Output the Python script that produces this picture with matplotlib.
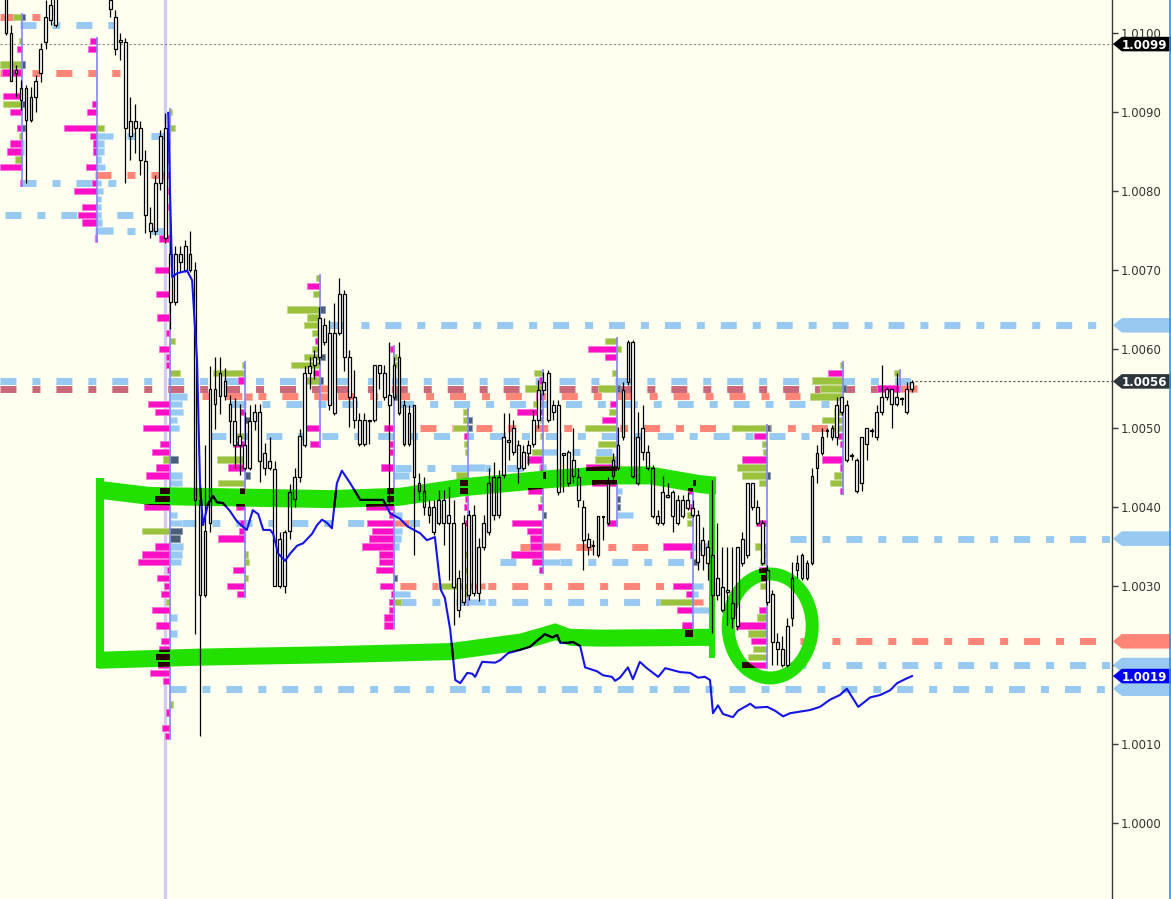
import numpy as np
import matplotlib.pyplot as plt
from matplotlib.patches import Polygon, PathPatch
from matplotlib.path import Path
from matplotlib.lines import Line2D

plt.rcParams['font.family'] = ['DejaVu Sans']

# price bars, bar index starts at 1: (open, high, low, close)
candles = [
    (1.01048, 1.01061, 1.00997, 1.01000), (1.01000, 1.01010, 1.00939, 1.00939),
    (1.00953, 1.00959, 1.00919, 1.00949), (1.00930, 1.00941, 1.00903, 1.00915),
    (1.00930, 1.00934, 1.00810, 1.00890), (1.00919, 1.00932, 1.00887, 1.00890),
    (1.00939, 1.00947, 1.00900, 1.00919), (1.00980, 1.00987, 1.00938, 1.00949),
    (1.01020, 1.01042, 1.00980, 1.00989), (1.01035, 1.01048, 1.01010, 1.01016),
    (1.01054, 1.01067, 1.01008, 1.01010), (1.01075, 1.01085, 1.01045, 1.01050),
    (1.01090, 1.01100, 1.01065, 1.01070), (1.01105, 1.01115, 1.01080, 1.01085),
    (1.01120, 1.01130, 1.01095, 1.01100), (1.01115, 1.01125, 1.01090, 1.01095),
    (1.01110, 1.01120, 1.01085, 1.01090), (1.01100, 1.01110, 1.01075, 1.01080),
    (1.01090, 1.01100, 1.01065, 1.01070), (1.01080, 1.01090, 1.01055, 1.01060),
    (1.01070, 1.01075, 1.01045, 1.01050), (1.01042, 1.01048, 1.01020, 1.01030),
    (1.01020, 1.01029, 1.00972, 1.00980), (1.00991, 1.01000, 1.00966, 1.00989),
    (1.00989, 1.00994, 1.00810, 1.00880), (1.00889, 1.00919, 1.00839, 1.00870),
    (1.00889, 1.00910, 1.00848, 1.00880), (1.00880, 1.00889, 1.00820, 1.00839),
    (1.00838, 1.00852, 1.00747, 1.00770), (1.00759, 1.00780, 1.00741, 1.00749),
    (1.00810, 1.00820, 1.00744, 1.00749), (1.00870, 1.00877, 1.00801, 1.00810),
    (1.00880, 1.00899, 1.00734, 1.00741), (1.00720, 1.00750, 1.00625, 1.00660),
    (1.00720, 1.00730, 1.00656, 1.00660), (1.00720, 1.00730, 1.00699, 1.00710),
    (1.00730, 1.00738, 1.00697, 1.00700), (1.00720, 1.00749, 1.00697, 1.00700),
    (1.00700, 1.00710, 1.00239, 1.00409), (1.00409, 1.00429, 1.00110, 1.00289),
    (1.00370, 1.00478, 1.00286, 1.00289), (1.00549, 1.00579, 1.00368, 1.00380),
    (1.00549, 1.00590, 1.00499, 1.00530), (1.00570, 1.00590, 1.00518, 1.00541),
    (1.00560, 1.00576, 1.00535, 1.00541), (1.00530, 1.00542, 1.00481, 1.00509),
    (1.00509, 1.00538, 1.00449, 1.00478), (1.00490, 1.00530, 1.00441, 1.00478),
    (1.00478, 1.00520, 1.00447, 1.00449), (1.00509, 1.00529, 1.00447, 1.00449),
    (1.00520, 1.00530, 1.00497, 1.00509), (1.00520, 1.00530, 1.00432, 1.00458),
    (1.00468, 1.00481, 1.00441, 1.00449), (1.00458, 1.00489, 1.00447, 1.00449),
    (1.00448, 1.00458, 1.00300, 1.00300), (1.00360, 1.00368, 1.00298, 1.00300),
    (1.00368, 1.00371, 1.00291, 1.00300), (1.00419, 1.00429, 1.00360, 1.00370),
    (1.00438, 1.00449, 1.00400, 1.00410), (1.00490, 1.00499, 1.00432, 1.00438),
    (1.00570, 1.00579, 1.00476, 1.00478), (1.00579, 1.00590, 1.00549, 1.00570),
    (1.00590, 1.00599, 1.00562, 1.00580), (1.00639, 1.00653, 1.00581, 1.00590),
    (1.00630, 1.00639, 1.00605, 1.00609), (1.00620, 1.00637, 1.00523, 1.00529),
    (1.00620, 1.00658, 1.00516, 1.00519), (1.00670, 1.00690, 1.00618, 1.00620),
    (1.00670, 1.00675, 1.00572, 1.00590), (1.00590, 1.00599, 1.00501, 1.00539),
    (1.00539, 1.00573, 1.00500, 1.00510), (1.00510, 1.00519, 1.00477, 1.00480),
    (1.00510, 1.00519, 1.00477, 1.00480), (1.00510, 1.00510, 1.00480, 1.00509),
    (1.00580, 1.00580, 1.00508, 1.00510), (1.00580, 1.00580, 1.00549, 1.00570),
    (1.00570, 1.00580, 1.00535, 1.00539), (1.00542, 1.00609, 1.00405, 1.00529),
    (1.00580, 1.00590, 1.00535, 1.00539), (1.00590, 1.00609, 1.00516, 1.00519),
    (1.00529, 1.00535, 1.00477, 1.00480), (1.00519, 1.00529, 1.00477, 1.00480),
    (1.00529, 1.00529, 1.00339, 1.00438), (1.00430, 1.00443, 1.00409, 1.00420),
    (1.00420, 1.00438, 1.00390, 1.00400), (1.00400, 1.00409, 1.00380, 1.00390),
    (1.00400, 1.00409, 1.00365, 1.00368), (1.00409, 1.00422, 1.00377, 1.00380),
    (1.00409, 1.00422, 1.00352, 1.00380), (1.00390, 1.00425, 1.00308, 1.00380),
    (1.00380, 1.00409, 1.00251, 1.00299), (1.00310, 1.00320, 1.00261, 1.00270),
    (1.00380, 1.00390, 1.00276, 1.00280), (1.00390, 1.00396, 1.00282, 1.00289),
    (1.00390, 1.00403, 1.00287, 1.00291), (1.00349, 1.00361, 1.00281, 1.00291),
    (1.00380, 1.00390, 1.00346, 1.00349), (1.00430, 1.00449, 1.00365, 1.00368),
    (1.00438, 1.00457, 1.00384, 1.00390), (1.00438, 1.00447, 1.00386, 1.00390),
    (1.00489, 1.00519, 1.00437, 1.00441), (1.00485, 1.00519, 1.00459, 1.00482),
    (1.00500, 1.00510, 1.00466, 1.00470), (1.00478, 1.00485, 1.00430, 1.00449),
    (1.00470, 1.00478, 1.00447, 1.00449), (1.00478, 1.00485, 1.00453, 1.00468),
    (1.00510, 1.00523, 1.00476, 1.00480), (1.00548, 1.00561, 1.00500, 1.00510),
    (1.00558, 1.00571, 1.00542, 1.00548), (1.00570, 1.00573, 1.00508, 1.00510),
    (1.00529, 1.00535, 1.00510, 1.00520), (1.00529, 1.00535, 1.00415, 1.00419),
    (1.00468, 1.00468, 1.00419, 1.00466), (1.00470, 1.00472, 1.00427, 1.00430),
    (1.00459, 1.00500, 1.00430, 1.00439), (1.00438, 1.00449, 1.00400, 1.00409),
    (1.00400, 1.00409, 1.00320, 1.00358), (1.00360, 1.00367, 1.00339, 1.00349),
    (1.00352, 1.00358, 1.00339, 1.00351), (1.00389, 1.00389, 1.00337, 1.00339),
    (1.00389, 1.00389, 1.00358, 1.00387), (1.00430, 1.00438, 1.00377, 1.00380),
    (1.00459, 1.00468, 1.00430, 1.00439), (1.00478, 1.00501, 1.00447, 1.00449),
    (1.00548, 1.00558, 1.00485, 1.00489), (1.00609, 1.00611, 1.00554, 1.00558),
    (1.00609, 1.00611, 1.00437, 1.00439), (1.00489, 1.00520, 1.00428, 1.00430),
    (1.00500, 1.00529, 1.00459, 1.00470), (1.00470, 1.00478, 1.00447, 1.00449),
    (1.00449, 1.00453, 1.00386, 1.00389), (1.00389, 1.00396, 1.00377, 1.00380),
    (1.00419, 1.00439, 1.00377, 1.00380), (1.00415, 1.00430, 1.00411, 1.00413),
    (1.00419, 1.00422, 1.00368, 1.00389), (1.00409, 1.00415, 1.00377, 1.00380),
    (1.00409, 1.00415, 1.00386, 1.00389), (1.00409, 1.00419, 1.00396, 1.00399),
    (1.00399, 1.00409, 1.00387, 1.00390), (1.00390, 1.00396, 1.00320, 1.00330),
    (1.00358, 1.00375, 1.00320, 1.00339), (1.00349, 1.00358, 1.00308, 1.00329),
    (1.00339, 1.00434, 1.00241, 1.00289), (1.00310, 1.00380, 1.00282, 1.00289),
    (1.00299, 1.00349, 1.00267, 1.00270), (1.00295, 1.00349, 1.00251, 1.00292),
    (1.00278, 1.00349, 1.00247, 1.00259), (1.00349, 1.00349, 1.00244, 1.00249),
    (1.00360, 1.00368, 1.00325, 1.00329), (1.00430, 1.00430, 1.00335, 1.00339),
    (1.00430, 1.00430, 1.00396, 1.00400), (1.00400, 1.00409, 1.00377, 1.00380),
    (1.00380, 1.00384, 1.00327, 1.00329), (1.00320, 1.00327, 1.00276, 1.00280),
    (1.00290, 1.00295, 1.00200, 1.00229), (1.00229, 1.00241, 1.00200, 1.00220),
    (1.00220, 1.00237, 1.00197, 1.00200), (1.00249, 1.00259, 1.00197, 1.00200),
    (1.00310, 1.00330, 1.00249, 1.00259), (1.00329, 1.00339, 1.00310, 1.00320),
    (1.00339, 1.00342, 1.00308, 1.00310), (1.00329, 1.00333, 1.00308, 1.00310),
    (1.00439, 1.00449, 1.00327, 1.00329), (1.00468, 1.00478, 1.00430, 1.00449),
    (1.00489, 1.00500, 1.00466, 1.00468), (1.00497, 1.00500, 1.00489, 1.00496),
    (1.00500, 1.00504, 1.00485, 1.00489), (1.00529, 1.00539, 1.00478, 1.00489),
    (1.00539, 1.00539, 1.00516, 1.00520), (1.00529, 1.00535, 1.00457, 1.00459),
    (1.00466, 1.00468, 1.00459, 1.00465), (1.00459, 1.00462, 1.00418, 1.00420),
    (1.00489, 1.00489, 1.00420, 1.00430), (1.00500, 1.00500, 1.00459, 1.00480),
    (1.00497, 1.00500, 1.00489, 1.00496), (1.00520, 1.00529, 1.00485, 1.00489),
    (1.00539, 1.00580, 1.00516, 1.00520), (1.00549, 1.00552, 1.00535, 1.00539),
    (1.00549, 1.00549, 1.00500, 1.00530), (1.00539, 1.00570, 1.00528, 1.00530),
    (1.00538, 1.00539, 1.00529, 1.00537), (1.00549, 1.00558, 1.00518, 1.00520),
    (1.00549, 1.00561, 1.00546, 1.00558),
]

# vwap-like line (bar position, price)
vwap_bar = [33.6, 34.0, 34.4, 35.4, 37.4, 38.4, 39.4, 40.0, 40.6, 41.6, 42.6, 43.4,
            44.6, 46.0, 47.4, 48.6, 49.4, 50.6, 51.7, 52.7, 54.1, 54.7, 55.7, 57.1,
            58.1, 59.5, 60.7, 62.5, 63.5, 64.5, 65.5, 66.5, 67.5, 68.5, 70.2, 72.2,
            74.2, 76.8, 78.2, 80.2, 81.8, 84.2, 85.6, 87.2, 88.4, 89.2, 90.3, 91.3,
            92.3, 93.7, 94.7, 95.3, 96.7, 99.3, 100.3, 101.9, 104.3, 106.3, 109.3,
            110.8, 111.8, 112.4, 113.8, 115.0, 116.4, 117.4, 119.8, 121.0, 122.8,
            123.4, 124.4, 126.0, 127.0, 128.4, 129.8, 132.1, 133.5, 136.5, 138.5,
            140.1, 141.5, 142.5, 143.1, 144.1, 145.1, 147.1, 148.1, 150.6, 151.6,
            154.0, 155.6, 157.2, 158.6, 160.6, 162.6, 164.6, 166.6, 168.6, 170.0,
            171.1, 172.3, 173.3, 174.7, 176.7, 178.7, 180.1, 181.7, 183.1]
vwap_price = [1.00899, 1.00789, 1.00691, 1.00696, 1.00699, 1.00687, 1.00585, 1.00427,
              1.00377, 1.00404, 1.00414, 1.00406, 1.00405, 1.00395, 1.00382, 1.00375,
              1.00371, 1.00396, 1.00391, 1.00371, 1.00371, 1.00366, 1.00341, 1.00332,
              1.00341, 1.00351, 1.00354, 1.00366, 1.00377, 1.00384, 1.00380, 1.00373,
              1.00430, 1.00446, 1.00430, 1.00409, 1.00409, 1.00409, 1.00392, 1.00385,
              1.00375, 1.00367, 1.00358, 1.00362, 1.00295, 1.00285, 1.00244, 1.00181,
              1.00177, 1.00190, 1.00189, 1.00185, 1.00204, 1.00203, 1.00206, 1.00215,
              1.00219, 1.00223, 1.00239, 1.00235, 1.00238, 1.00228, 1.00228, 1.00229,
              1.00224, 1.00197, 1.00192, 1.00187, 1.00185, 1.00180, 1.00184, 1.00197,
              1.00182, 1.00204, 1.00196, 1.00185, 1.00196, 1.00191, 1.00190, 1.00184,
              1.00185, 1.00181, 1.00139, 1.00149, 1.00138, 1.00134, 1.00142, 1.00151,
              1.00146, 1.00147, 1.00142, 1.00135, 1.00139, 1.00141, 1.00143, 1.00147,
              1.00156, 1.00162, 1.00170, 1.00159, 1.00147, 1.00152, 1.00159, 1.00162,
              1.00168, 1.00177, 1.00182, 1.00186]

# dashed levels: (price, colour key, from bar, to bar; None = up to the axis)
levels = [
    (1.0102, 's', -0.2, 9.0), (1.0101, 'b', 3.8, 24.0), (1.0095, 's', -0.2, 24.0),
    (1.0087, 'b', 18.9, 33.0), (1.0082, 's', 18.9, 33.0), (1.0081, 'b', 3.8, 25.9),
    (1.0077, 'b', 0.8, 26.9), (1.0075, 'b', 18.9, 33.0), (1.0063, 'b', 66.0, None),
    (1.0056, 'b', -0.2, 183.7), (1.0055, 'r', -0.2, 183.7), (1.0054, 's', 34.0, 160.6),
    (1.0053, 'b', 46.0, 166.6), (1.0050, 's', 84.2, 166.6), (1.0049, 'b', 42.0, 162.6),
    (1.0047, 'b', 108.3, 125.0), (1.0045, 'b', 79.2, 108.3), (1.0038, 'b', 36.0, 86.2),
    (1.0036, 'b', 158.6, None), (1.0035, 's', 104.3, 140.5), (1.0033, 'b', 100.3, 140.5),
    (1.0030, 's', 80.2, 140.5), (1.0028, 'b', 80.2, 140.5), (1.0023, 's', 160.6, None),
    (1.0020, 'b', 158.6, None), (1.0017, 'b', 34.0, None),
]

# session volume profiles: (price, kind, size in bars)
# m/o grow to the left of the session start, b/s/k/g to the right
profile_anchors = [4.2, 19.3, 34.0, 49.0, 64.1, 79.0, 93.9, 108.9, 123.8, 139.1, 154.0, 169.2, 180.7]
profile_a = [(1.0102, 'o', 1.8), (1.0102, 'k', 0.6), (1.0099, 'o', 0.6), (1.0098, 'm', 1.0),
             (1.0096, 'o', 4.4), (1.0096, 'k', 0.6), (1.0095, 'm', 4.0), (1.0092, 'm', 3.8),
             (1.0091, 'o', 3.8), (1.0091, 'k', 0.6), (1.0090, 'm', 2.4), (1.0088, 'm', 1.0),
             (1.0088, 'k', 0.6), (1.0087, 'o', 0.6), (1.0086, 'm', 2.4), (1.0086, 'b', 0.4),
             (1.0085, 'm', 3.0), (1.0085, 'b', 0.4), (1.0084, 'o', 1.4), (1.0083, 'm', 4.4),
             (1.0081, 'm', 0.4)]
profile_b = [(1.0099, 'm', 1.4), (1.0098, 'm', 1.8), (1.0091, 'm', 1.0), (1.0090, 'm', 2.0),
             (1.0088, 'm', 6.6), (1.0088, 'g', 1.4), (1.0087, 'm', 1.4), (1.0087, 'b', 3.2),
             (1.0086, 'm', 0.8), (1.0086, 'b', 1.4), (1.0085, 'm', 0.8), (1.0085, 'b', 1.4),
             (1.0084, 'b', 0.8), (1.0083, 'm', 2.2), (1.0083, 'b', 1.6), (1.0081, 'm', 1.0),
             (1.0081, 'b', 0.8), (1.0080, 'm', 4.6), (1.0080, 'b', 1.2), (1.0079, 'b', 0.8),
             (1.0078, 'm', 3.0), (1.0078, 'b', 0.8), (1.0077, 'm', 3.8), (1.0077, 'b', 0.8),
             (1.0076, 'm', 3.0), (1.0076, 'b', 1.0), (1.0075, 'b', 3.2), (1.0074, 'm', 0.4)]
profile_c = [(1.0090, 'g', 0.4), (1.0088, 'g', 1.0), (1.0086, 'm', 0.4), (1.0084, 'm', 0.4),
             (1.0082, 'm', 0.4), (1.0080, 'm', 0.4), (1.0078, 'm', 0.4), (1.0074, 'm', 2.2),
             (1.0070, 'm', 3.0), (1.0067, 'm', 2.8), (1.0064, 'm', 2.6), (1.0062, 'm', 0.8),
             (1.0061, 'g', 1.0), (1.0060, 'm', 2.2), (1.0059, 'm', 0.8), (1.0058, 'm', 0.8),
             (1.0057, 'g', 2.0), (1.0054, 'b', 3.4), (1.0053, 'm', 4.4), (1.0053, 'b', 2.4),
             (1.0052, 'm', 3.0), (1.0052, 'b', 2.6), (1.0051, 'b', 1.4), (1.0050, 'm', 5.4),
             (1.0050, 'b', 1.8), (1.0048, 'm', 2.0), (1.0047, 'm', 3.6), (1.0046, 'o', 1.4),
             (1.0046, 'k', 1.6), (1.0045, 'm', 2.8), (1.0044, 'm', 4.8), (1.0044, 'b', 2.4),
             (1.0043, 'b', 2.4), (1.0042, 'm', 2.0), (1.0041, 'm', 3.0), (1.0040, 'm', 5.2),
             (1.0039, 'b', 1.4), (1.0038, 'b', 2.4), (1.0037, 'o', 5.6), (1.0037, 'k', 2.4),
             (1.0036, 'k', 2.0), (1.0035, 'm', 3.0), (1.0035, 'b', 2.6), (1.0034, 'm', 5.6),
             (1.0034, 'b', 2.4), (1.0033, 'm', 6.4), (1.0033, 'b', 2.2), (1.0032, 'm', 0.6),
             (1.0031, 'm', 2.6), (1.0030, 'm', 1.2), (1.0029, 'm', 1.8), (1.0028, 'o', 0.8),
             (1.0027, 'm', 3.6), (1.0026, 'b', 1.4), (1.0025, 'm', 2.8), (1.0024, 'b', 1.4),
             (1.0023, 'm', 1.8), (1.0022, 'm', 2.2), (1.0021, 'm', 2.8), (1.0020, 'm', 2.4),
             (1.0019, 'm', 4.0), (1.0018, 'm', 1.4), (1.0015, 'g', 0.6), (1.0014, 'm', 0.8),
             (1.0012, 'm', 1.6), (1.0011, 'm', 1.0)]
profile_d = [(1.0058, 'o', 0.6), (1.0057, 'o', 6.4), (1.0056, 'm', 1.4), (1.0054, 's', 1.4),
             (1.0052, 'm', 1.0), (1.0051, 'k', 1.0), (1.0049, 'o', 2.0), (1.0048, 'm', 2.4),
             (1.0046, 'o', 5.6), (1.0045, 'm', 3.4), (1.0044, 'k', 1.0), (1.0043, 'o', 5.4),
             (1.0042, 'm', 1.0), (1.0041, 'o', 1.6), (1.0040, 'm', 1.8), (1.0038, 'm', 1.0),
             (1.0037, 'm', 1.2), (1.0036, 'm', 5.4), (1.0034, 'g', 0.6), (1.0033, 'g', 0.8),
             (1.0032, 'm', 2.4), (1.0031, 'g', 0.6), (1.0030, 'm', 3.6), (1.0029, 'm', 1.6)]
profile_e = [(1.0069, 'o', 0.8), (1.0068, 'm', 2.6), (1.0067, 'o', 1.4), (1.0065, 'o', 6.6),
             (1.0065, 'k', 1.0), (1.0064, 'o', 2.6), (1.0063, 'o', 3.2), (1.0062, 'o', 1.6),
             (1.0061, 'm', 1.0), (1.0060, 'o', 1.6), (1.0059, 'o', 3.2), (1.0059, 'k', 1.0),
             (1.0058, 'o', 5.8), (1.0057, 'm', 1.4), (1.0056, 'o', 3.4), (1.0056, 'k', 0.6),
             (1.0055, 's', 2.0), (1.0054, 's', 1.6), (1.0050, 'm', 3.4), (1.0048, 'm', 2.0)]
profile_f = [(1.0060, 'm', 0.8), (1.0059, 'g', 0.6), (1.0058, 'g', 0.6), (1.0054, 'k', 0.6),
             (1.0050, 'm', 2.0), (1.0048, 'm', 1.0), (1.0047, 'm', 1.0), (1.0045, 'm', 2.6),
             (1.0044, 'b', 3.0), (1.0042, 'm', 1.4), (1.0041, 'm', 1.4), (1.0040, 'm', 5.6),
             (1.0039, 'm', 1.0), (1.0039, 'b', 1.6), (1.0038, 'm', 5.4), (1.0038, 's', 3.0),
             (1.0037, 'm', 4.4), (1.0037, 'b', 1.6), (1.0036, 'm', 5.0), (1.0036, 'b', 1.4),
             (1.0035, 'm', 6.4), (1.0035, 'b', 1.0), (1.0034, 'm', 3.0), (1.0033, 'm', 3.0),
             (1.0032, 'm', 3.6), (1.0031, 'k', 0.6), (1.0030, 'm', 2.8), (1.0029, 'm', 0.6),
             (1.0029, 'b', 3.2), (1.0028, 'm', 1.0), (1.0028, 'g', 1.4), (1.0027, 'm', 1.0),
             (1.0026, 'm', 2.0), (1.0025, 'm', 2.0)]
profile_g = [(1.0052, 'o', 1.0), (1.0051, 'o', 1.0), (1.0051, 'k', 0.8), (1.0050, 'o', 3.0),
             (1.0050, 'k', 0.8), (1.0049, 'm', 0.8), (1.0048, 'o', 0.8), (1.0047, 'o', 0.6),
             (1.0045, 'b', 3.4), (1.0044, 'o', 2.4), (1.0043, 'm', 1.6), (1.0042, 'm', 1.6),
             (1.0041, 'm', 0.6), (1.0040, 'm', 0.8), (1.0038, 'm', 0.6), (1.0034, 'o', 0.6),
             (1.0032, 'o', 1.0), (1.0030, 'o', 6.0), (1.0030, 's', 3.4), (1.0029, 'o', 0.6),
             (1.0028, 'b', 3.4)]
profile_h = [(1.0057, 'o', 1.8), (1.0056, 'm', 0.8), (1.0055, 'o', 3.6), (1.0054, 'm', 1.4),
             (1.0053, 'o', 2.0), (1.0052, 'm', 5.2), (1.0051, 'o', 0.6), (1.0050, 'm', 0.4),
             (1.0049, 'o', 0.6), (1.0047, 'o', 2.2), (1.0047, 'b', 3.4), (1.0046, 'm', 3.2),
             (1.0045, 'm', 0.6), (1.0045, 'b', 0.6), (1.0044, 'o', 0.6), (1.0044, 'k', 0.6),
             (1.0043, 'o', 1.0), (1.0042, 'm', 3.0), (1.0041, 'o', 0.6), (1.0040, 'm', 1.0),
             (1.0039, 'k', 0.6), (1.0038, 'm', 6.2), (1.0037, 'm', 3.2), (1.0036, 'm', 2.6),
             (1.0035, 'm', 2.6), (1.0035, 's', 3.4), (1.0034, 'm', 6.4), (1.0033, 'm', 2.2),
             (1.0033, 'b', 3.4), (1.0032, 'm', 0.8)]
profile_i = [(1.0061, 'o', 2.4), (1.0060, 'm', 5.8), (1.0060, 'g', 0.8), (1.0059, 'm', 2.4),
             (1.0057, 'o', 1.0), (1.0055, 'o', 3.8), (1.0055, 'k', 0.6), (1.0053, 'm', 1.4),
             (1.0052, 'o', 1.6), (1.0051, 'm', 3.0), (1.0050, 'o', 6.4), (1.0048, 'o', 3.8),
             (1.0046, 'o', 4.4), (1.0045, 'm', 6.2), (1.0044, 'o', 2.6), (1.0043, 'm', 5.0),
             (1.0042, 'b', 1.0), (1.0041, 'k', 0.6), (1.0040, 'k', 0.6), (1.0039, 'b', 3.2),
             (1.0038, 'm', 2.0)]
profile_j = [(1.0043, 'k', 0.6), (1.0042, 'm', 1.0), (1.0040, 'm', 0.6), (1.0039, 'o', 1.2),
             (1.0038, 'o', 1.2), (1.0035, 'm', 6.0), (1.0035, 'b', 3.4), (1.0034, 'm', 0.6),
             (1.0033, 'k', 0.8), (1.0030, 'm', 4.0), (1.0030, 'b', 2.0), (1.0029, 'm', 1.4),
             (1.0029, 'b', 1.0), (1.0028, 'o', 6.6), (1.0028, 's', 2.0), (1.0027, 'm', 3.2),
             (1.0027, 'b', 3.4), (1.0025, 'm', 2.2), (1.0024, 'm', 1.6)]
profile_k = [(1.0050, 'o', 7.0), (1.0050, 'k', 0.6), (1.0049, 'm', 2.6), (1.0048, 'o', 1.0),
             (1.0047, 'o', 0.8), (1.0046, 'm', 5.0), (1.0045, 'o', 6.0), (1.0044, 'o', 5.0),
             (1.0044, 'k', 0.6), (1.0043, 'o', 1.6), (1.0038, 'm', 2.2), (1.0035, 'o', 2.4),
             (1.0034, 'o', 1.0), (1.0033, 'o', 1.4), (1.0032, 'm', 1.6), (1.0031, 'm', 1.2),
             (1.0030, 'o', 1.4), (1.0027, 'm', 1.6), (1.0026, 'o', 2.0), (1.0025, 'm', 6.2),
             (1.0024, 'o', 3.8), (1.0023, 'm', 3.2), (1.0022, 'o', 2.8), (1.0021, 'o', 3.8),
             (1.0020, 'm', 5.0)]
profile_l = [(1.0058, 'o', 0.6), (1.0057, 'm', 3.0), (1.0056, 'o', 6.2), (1.0055, 'o', 4.6),
             (1.0055, 'k', 0.6), (1.0054, 'o', 6.6), (1.0052, 'o', 1.8), (1.0051, 'o', 4.2),
             (1.0050, 'o', 2.2), (1.0049, 'm', 1.0), (1.0048, 'm', 0.6), (1.0046, 'm', 4.2),
             (1.0045, 'm', 0.6), (1.0044, 'o', 1.8), (1.0043, 'o', 2.6), (1.0042, 'm', 0.6)]
profile_m = [(1.0057, 'o', 1.2), (1.0055, 'm', 4.6), (1.0055, 's', 3.4)]
profiles = [profile_a, profile_b, profile_c, profile_d, profile_e, profile_f, profile_g,
            profile_h, profile_i, profile_j, profile_k, profile_l, profile_m]

# right-axis price tags
label_tags = [(1.00986, '#000000'), (1.00559, '#2E343C'), (1.00186, '#0000F0')]
plain_tags = [(1.0063, 'b'), (1.0036, 'b'), (1.0023, 's'), (1.0020, 'b'), (1.0017, 'b')]
# axis labels covered by the price tags in the chart
hidden_ticks = [1.0020]

colours = {'m': '#FF0FC6', 'o': '#9BC23C', 'g': '#9BC23C', 'b': '#97C9F1',
           's': '#FF8578', 'k': '#4A5F75', 'r': '#C9687A'}
edges = {'m': '#FF70DC', 'o': '#C0DA8A', 'g': '#C0DA8A', 'b': '#C4E0F6',
         's': '#FFB8AE', 'k': '#8A9AAA', 'r': '#E0A0AA'}
bg = '#FFFFF0'
green = '#22E000'
dark = '#2A0000'

XMIN, XMAX = -0.21, 223.3
fig = plt.figure(figsize=(11.71, 8.99), dpi=100)
fig.patch.set_facecolor(bg)
ax = fig.add_axes([0, 0, 1112 / 1171, 1])
ax.set_facecolor(bg)
ax.set_xlim(XMIN, XMAX)
ax.set_ylim(0.999038, 1.010418)

# day separator
ax.axvline(33.0, color='#D4CCF0', lw=2.4, zorder=0.5)

# dashed levels
for price, key, x0, x1 in levels:
    ax.plot([x0, XMAX if x1 is None else x1], [price, price], color=colours[key],
            lw=5.0, dashes=(2.3, 2.3, 1.15, 2.3), dash_capstyle='butt', zorder=1)

# last-price dotted lines
ax.plot([XMIN, XMAX], [1.00986, 1.00986], color='#8A8A8A', lw=0.8, dashes=(2, 2), zorder=1.5)
ax.plot([183.7, XMAX], [1.00559, 1.00559], color='#555555', lw=0.8, dashes=(2, 2), zorder=1.5)

# volume profiles
row_h = 0.00008
left_kinds = ('m', 'o')
for anchor, rows in zip(profile_anchors, profiles):
    ps = [r[0] for r in rows]
    ax.vlines(anchor, min(ps) - 0.00005, max(ps) + 0.00005, color='#8585FF', lw=1.2, zorder=2.5)
    for price, kind, size in rows:
        w = -size if kind in left_kinds else size
        ax.barh(price, w, left=anchor, height=row_h, color=colours[kind],
                edgecolor=edges[kind], lw=0.6, zorder=2)

# candles
bars = np.arange(1, len(candles) + 1)
o, h, l, c = (np.array(v) for v in zip(*candles))
top = np.maximum(o, c)
bot = np.minimum(o, c)
ax.bar(bars, top - bot, bottom=bot, width=0.56, color='white', edgecolor='none', zorder=3)
ax.bar(bars, top - bot, bottom=bot, width=0.56, facecolor='none', edgecolor='black',
       lw=0.9, zorder=5)
ax.vlines(bars, top, h, color='black', lw=0.9, zorder=5)
ax.vlines(bars, l, bot, color='black', lw=0.9, zorder=5)

# vwap
ax.plot(vwap_bar, vwap_price, color='#1414E6', lw=1.5, zorder=6)


# hand-drawn green marker (multiplies darker colours underneath to black)
def strip(points, half):
    up = [(x, y + half) for x, y in points]
    dn = [(x, y - half) for x, y in reversed(points)]
    return Polygon(up + dn, closed=True)


def post(x, y0, y1, half):
    return Polygon([(x - half, y0), (x + half, y0), (x + half, y1), (x - half, y1)], closed=True)


top_band = [(19.5, 1.00422), (29.9, 1.00414), (66.1, 1.00410), (80.2, 1.00413),
            (92.9, 1.00425), (109.7, 1.00435), (120.4, 1.00440), (130.4, 1.00440),
            (140.5, 1.00429), (143.7, 1.00427)]
bottom_band = [(19.5, 1.00206), (40.0, 1.00210), (66.1, 1.00213), (90.3, 1.00217),
               (104.3, 1.00229), (109.3, 1.00238), (111.4, 1.00242), (114.4, 1.00235),
               (120.4, 1.00234), (140.5, 1.00235), (142.4, 1.00235)]
t = np.linspace(0, 2 * np.pi, 160)
cx, cy = 154.6, 1.002494
ring_out = np.column_stack([cx + 9.75 * np.cos(t), cy + 0.00074 * np.sin(t)])
ring_in = np.column_stack([cx + 7.13 * np.cos(t[::-1]), cy + 0.000576 * np.sin(t[::-1])])
ring = PathPatch(Path.make_compound_path(Path(ring_out, closed=True), Path(ring_in, closed=True)))

shapes = [strip(top_band, 0.000114), strip(bottom_band, 0.000108),
          post(19.9, 1.00196, 1.00437, 0.8), post(142.9, 1.00209, 1.00437, 0.55), ring]

for shp in shapes:
    shp.set_facecolor(green)
    shp.set_edgecolor('none')
    shp.set_zorder(4)
    ax.add_patch(shp)
    ext = shp.get_path().get_extents()
    for anchor, rows in zip(profile_anchors, profiles):
        for price, kind, size in rows:
            if kind not in ('m', 'k') or not (ext.y0 - row_h < price < ext.y1 + row_h):
                continue
            w = -size if kind in left_kinds else size
            bc = ax.barh(price, w, left=anchor, height=row_h, color=dark, lw=0, zorder=4.5)
            for rect in bc:
                rect.set_clip_path(shp)
    ln, = ax.plot(vwap_bar, vwap_price, color='black', lw=1.5, zorder=6.5)
    ln.set_clip_path(shp)

# right axis
for side in ('top', 'left', 'bottom'):
    ax.spines[side].set_visible(False)
ax.spines['right'].set_color('#3A3A3A')
ax.spines['right'].set_linewidth(1.0)
ax.set_xticks([])
ax.yaxis.tick_right()
ticks = np.round(np.arange(1.0, 1.01001, 0.001), 4)
ax.set_yticks(ticks)
ax.set_yticklabels(['' if v in hidden_ticks else f'{v:.4f}' for v in ticks])
ax.tick_params(axis='y', direction='out', length=4.5, width=1.0, colors='#3A3A3A',
               labelsize=8.5, pad=1.5, labelcolor='#333333')

tr = ax.get_yaxis_transform()
hh = 0.000092


def tag(price, fc):
    pts = [(1.0008, price), (1.0088, price + hh), (1.06, price + hh),
           (1.06, price - hh), (1.0088, price - hh)]
    ax.add_patch(Polygon(pts, closed=True, transform=tr, facecolor=fc, edgecolor='none',
                         clip_on=False, zorder=10))


for price, key in plain_tags:
    tag(price, colours[key])
for price, fc in label_tags:
    tag(price, fc)
    ax.text(1.0085, price - 0.000012, f'{price:.4f}', transform=tr, color='white',
            fontsize=8.5, fontweight='bold', va='center', ha='left', zorder=11, clip_on=False)

fig.add_artist(Line2D([1169.5 / 1171] * 2, [0, 1], transform=fig.transFigure,
                      color='#3C8EE8', lw=1.2))

fig.savefig('out.png', dpi=100, facecolor=bg)
